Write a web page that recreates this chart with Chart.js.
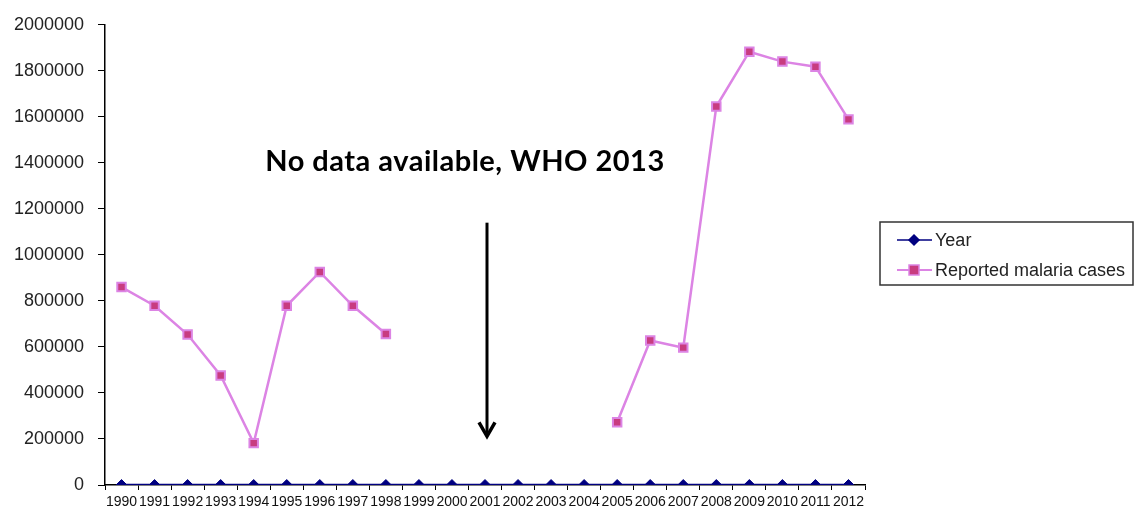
<!DOCTYPE html>
<html>
<head>
<meta charset="utf-8">
<script src="https://cdn.jsdelivr.net/npm/chart.js@4"></script>
<style>
  html, body { margin: 0; padding: 0; background: #fff; }
  #wrap { width: 1135px; height: 511px; position: relative; }
</style>
</head>
<body>
<div id="wrap"><canvas id="chart"></canvas></div>
<script>
"use strict";

var years = ['1990', '1991', '1992', '1993', '1994', '1995', '1996', '1997', '1998', '1999', '2000', '2001',
	'2002', '2003', '2004', '2005', '2006', '2007', '2008', '2009', '2010', '2011', '2012'];
var yearValues = [1990, 1991, 1992, 1993, 1994, 1995, 1996, 1997, 1998, 1999, 2000, 2001,
	2002, 2003, 2004, 2005, 2006, 2007, 2008, 2009, 2010, 2011, 2012];
var malariaCases = [860000, 779000, 654000, 476000, 182000, 779000, 926000, 779000, 656000,
	null, null, null, null, null, null,
	273000, 628000, 597000, 1645000, 1883000, 1840000, 1818000, 1589000];
var yTicks = [0, 200000, 400000, 600000, 800000, 1000000, 1200000, 1400000, 1600000, 1800000, 2000000];
var noteText = 'No data available, WHO 2013';

var navy = '#000080';
var pinkLine = '#dc84e4';
var pinkFill = '#c83c80';

// draws the note, the arrow and the boxed legend
var extras = {
	id: 'extras',
	afterDraw: function (chart) {
		var ctx = chart.ctx;
		var x = chart.scales.x;
		var y = chart.scales.y;
		ctx.save();

		// note text
		ctx.font = 'bold 29px Lato';
		ctx.letterSpacing = '0.5px';
		ctx.fillStyle = '#000';
		ctx.textAlign = 'center';
		ctx.textBaseline = 'alphabetic';
		ctx.fillText(noteText, x.getPixelForValue(11) - 20, y.getPixelForValue(1364000));
		ctx.letterSpacing = '0px';

		// arrow
		var ax = x.getPixelForValue(11) + 2;
		var top = y.getPixelForValue(1140000);
		var bot = y.getPixelForValue(203000);
		ctx.strokeStyle = '#000';
		ctx.lineWidth = 3;
		ctx.beginPath();
		ctx.moveTo(ax, top);
		ctx.lineTo(ax, bot - 4);
		ctx.stroke();
		ctx.lineWidth = 3.5;
		ctx.beginPath();
		ctx.moveTo(ax - 8, bot - 16);
		ctx.lineTo(ax, bot - 2);
		ctx.lineTo(ax + 8, bot - 16);
		ctx.stroke();

		// legend box
		var lx = 880, ly = 222, lw = 253, lh = 63;
		ctx.strokeStyle = '#333';
		ctx.lineWidth = 1.5;
		ctx.strokeRect(lx, ly, lw, lh);
		ctx.font = '18px "Liberation Sans"';
		ctx.textAlign = 'left';
		ctx.textBaseline = 'middle';
		chart.data.datasets.forEach(function (ds, i) {
			var cy = ly + 18 + i * 30;
			ctx.strokeStyle = ds.borderColor;
			ctx.lineWidth = i === 0 ? 1.5 : 2;
			ctx.beginPath();
			ctx.moveTo(lx + 17, cy);
			ctx.lineTo(lx + 52, cy);
			ctx.stroke();
			ctx.fillStyle = ds.pointBackgroundColor;
			ctx.strokeStyle = ds.pointBorderColor;
			ctx.lineWidth = 1.5;
			ctx.beginPath();
			if (i === 0) {
				ctx.moveTo(lx + 34, cy - 5);
				ctx.lineTo(lx + 39, cy);
				ctx.lineTo(lx + 34, cy + 5);
				ctx.lineTo(lx + 29, cy);
				ctx.closePath();
			} else {
				ctx.rect(lx + 29, cy - 5, 10, 10);
			}
			ctx.fill();
			ctx.stroke();
			ctx.fillStyle = '#222';
			ctx.fillText(ds.label, lx + 55, cy + 1);
		});
		ctx.restore();
	}
};

var ctx = document.getElementById('chart').getContext('2d');
var chart = new Chart(ctx, {
	type: 'line',
	data: {
		labels: years,
		datasets: [{
			label: 'Year',
			data: yearValues,
			borderColor: navy,
			borderWidth: 1.5,
			pointStyle: 'rectRot',
			pointRadius: 5,
			pointBackgroundColor: navy,
			pointBorderColor: navy,
			pointBorderWidth: 1
		}, {
			label: 'Reported malaria cases',
			data: malariaCases,
			borderColor: pinkLine,
			borderWidth: 2.5,
			spanGaps: false,
			pointStyle: 'rect',
			pointRadius: 6,
			pointBackgroundColor: pinkFill,
			pointBorderColor: pinkLine,
			pointBorderWidth: 2
		}]
	},
	options: {
		responsive: true,
		maintainAspectRatio: false,
		animation: false,
		layout: { padding: { left: 0, right: 270, top: 23, bottom: 0 } },
		plugins: {
			legend: { display: false },
			tooltip: { enabled: false }
		},
		scales: {
			x: {
				offset: true,
				border: { color: '#000', width: 1.5 },
				grid: { offset: true, drawOnChartArea: false, tickLength: 5, color: '#000' },
				ticks: {
					color: '#111',
					padding: 4,
					maxRotation: 0,
					autoSkip: false,
					font: { family: 'Liberation Sans', size: 14 }
				},
				afterFit: function (scale) { scale.height = 26; }
			},
			y: {
				min: 0,
				max: 2000000,
				border: { color: '#000', width: 1.5 },
				grid: { drawOnChartArea: false, tickLength: 7, color: '#000' },
				afterBuildTicks: function (scale) {
					scale.ticks = yTicks.map(function (v) { return { value: v }; });
				},
				ticks: {
					color: '#222',
					padding: 14,
					font: { family: 'Liberation Sans', size: 18 },
					callback: function (v) { return String(v); }
				},
				afterFit: function (scale) { scale.width = 105; }
			}
		}
	},
	plugins: [extras]
});
</script>
</body>
</html>
